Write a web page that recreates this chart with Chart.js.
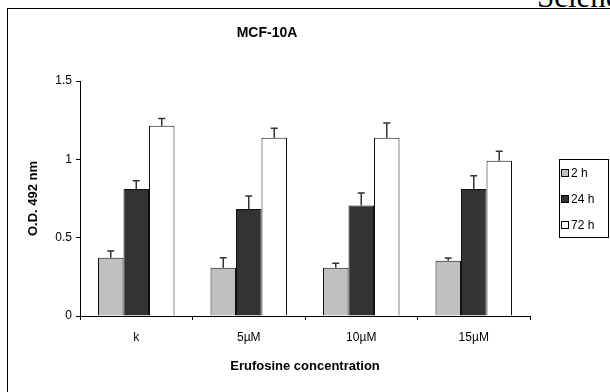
<!DOCTYPE html>
<html>
<head>
<meta charset="utf-8">
<script src="https://cdn.jsdelivr.net/npm/chart.js@4/dist/chart.umd.min.js"></script>
<style>
  html, body { margin: 0; padding: 0; background: #fff; }
  #wrap { position: relative; width: 610px; height: 392px; overflow: hidden; background: #fff; }
  #frame { position: absolute; left: 7px; top: 8px; width: 620px; height: 400px;
           border-left: 1.5px solid #000; border-top: 1.5px solid #000; box-sizing: border-box; }
  #cut { position: absolute; left: 537px; top: 0; height: 8px; width: 80px; overflow: hidden; }
  #cut span { position: absolute; left: 0; top: -19px; font-family: "Liberation Serif", serif;
              font-size: 31px; line-height: 31px; color: #000; white-space: nowrap; }
  canvas { position: absolute; left: 0; top: 0; }
</style>
</head>
<body>
<div id="wrap">
  <div id="cut"><span>Science</span></div>
  <div id="frame"></div>
  <canvas id="c" width="610" height="392"></canvas>
</div>
<script>
const categories = ["k", "5\u00b5M", "10\u00b5M", "15\u00b5M"];
const seriesNames = ["2 h", "24 h", "72 h"];
const values2h  = [0.372, 0.308, 0.308, 0.353];
const values24h = [0.810, 0.683, 0.706, 0.810];
const values72h = [1.215, 1.138, 1.138, 0.991];
const err2h  = [0.043, 0.064, 0.028, 0.017];
const err24h = [0.054, 0.083, 0.079, 0.086];
const err72h = [0.045, 0.060, 0.094, 0.060];
const yTicks = [0, 0.5, 1, 1.5];
const chartTitle = "MCF-10A";
const xTitle = "Erufosine concentration";
const yTitle = "O.D. 492 nm";

const fills = ["#c0c0c0", "#333333", "#ffffff"];
const FONT = "'Liberation Sans', Arial, sans-serif";

const datasets = [values2h, values24h, values72h].map((v, i) => ({
  label: seriesNames[i],
  data: v,
  errors: [err2h, err24h, err72h][i],
  backgroundColor: fills[i],
  borderColor: "#111",
  borderWidth: 1,
  categoryPercentage: 0.68,
  barPercentage: 1.0
}));

const extras = {
  id: "extras",
  afterDatasetsDraw(chart) {
    const ctx = chart.ctx;
    const y = chart.scales.y;
    ctx.save();
    ctx.strokeStyle = "#333";
    ctx.lineWidth = 1.5;
    chart.data.datasets.forEach((ds, di) => {
      const meta = chart.getDatasetMeta(di);
      meta.data.forEach((bar, i) => {
        const top = y.getPixelForValue(ds.data[i]);
        const et = y.getPixelForValue(ds.data[i] + ds.errors[i]);
        ctx.beginPath();
        ctx.moveTo(bar.x, top);
        ctx.lineTo(bar.x, et);
        ctx.moveTo(bar.x - 3.5, et);
        ctx.lineTo(bar.x + 3.5, et);
        ctx.stroke();
      });
    });
    ctx.restore();
  },
  afterDraw(chart) {
    const ctx = chart.ctx;
    const a = chart.chartArea;
    ctx.save();
    ctx.fillStyle = "#000";
    ctx.textAlign = "center";
    ctx.textBaseline = "middle";
    ctx.font = "bold 14px " + FONT;
    ctx.fillText(chartTitle, 267, 33);
    ctx.font = "bold 13px " + FONT;
    ctx.fillText(xTitle, (a.left + a.right) / 2, 366);
    ctx.save();
    ctx.translate(33, (a.top + a.bottom) / 2);
    ctx.rotate(-Math.PI / 2);
    ctx.fillText(yTitle, 0, 0);
    ctx.restore();
    // legend
    const lx = 559, ly = 159, lw = 49, lh = 78;
    ctx.strokeStyle = "#000";
    ctx.lineWidth = 1;
    ctx.strokeRect(lx + 0.5, ly + 0.5, lw, lh);
    ctx.font = "12px " + FONT;
    ctx.textAlign = "left";
    chart.data.datasets.forEach((ds, i) => {
      const cy = 173 + i * 26;
      ctx.fillStyle = ds.backgroundColor;
      ctx.fillRect(561.5, cy - 3.5, 7, 7);
      ctx.strokeRect(561.5, cy - 3.5, 7, 7);
      ctx.fillStyle = "#000";
      ctx.fillText(ds.label, 571, cy + 0.5);
    });
    ctx.restore();
  }
};

new Chart(document.getElementById("c"), {
  type: "bar",
  data: { labels: categories, datasets },
  options: {
    responsive: false,
    animation: false,
    devicePixelRatio: 1,
    layout: { padding: { left: 0, top: 81, right: 80, bottom: 0 } },
    plugins: { legend: { display: false }, tooltip: { enabled: false }, title: { display: false } },
    scales: {
      x: {
        offset: true,
        grid: { display: true, drawOnChartArea: false, offset: true, color: "#000", tickLength: 4, tickWidth: 1 },
        border: { display: true, color: "#000", width: 1 },
        ticks: { color: "#000", font: { family: FONT, size: 12 }, padding: 10, maxRotation: 0 },
        afterFit(s) { s.height = 76; }
      },
      y: {
        min: 0, max: 1.5,
        afterBuildTicks(s) { s.ticks = yTicks.map(v => ({ value: v })); },
        grid: { display: true, drawOnChartArea: false, color: "#000", tickLength: 4, tickWidth: 1 },
        border: { display: true, color: "#000", width: 1 },
        ticks: { color: "#000", font: { family: FONT, size: 12 }, padding: 4,
                 callback: v => String(v) },
        afterFit(s) { s.width = 80; }
      }
    }
  },
  plugins: [extras]
});
</script>
</body>
</html>
